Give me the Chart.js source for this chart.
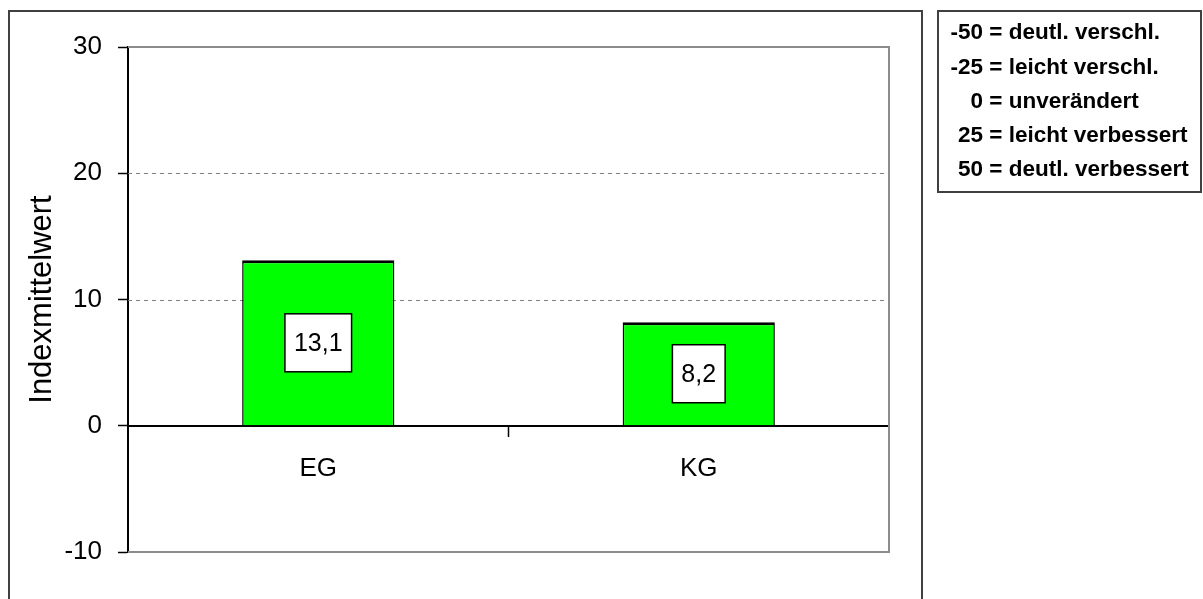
<!DOCTYPE html>
<html>
<head>
<meta charset="utf-8">
<script src="https://cdn.jsdelivr.net/npm/chart.js@4/dist/chart.umd.min.js"></script>
<style>
html,body{margin:0;padding:0;background:#fff;}
#wrap{width:1203px;height:599px;position:relative;}
</style>
</head>
<body>
<div id="wrap"><canvas id="c" width="1203" height="599"></canvas></div>
<script>
const categories = ["EG", "KG"];
const values = [13.1, 8.2];
const yTicks = [-10, 0, 10, 20, 30];
const dashedGrid = [10, 20];
const axisTitle = "Indexmittelwert";
const legendNumbers = ["-50", "-25", "0", "25", "50"];
const legendTexts = ["deutl. verschl.", "leicht verschl.", "unverändert", "leicht verbessert", "deutl. verbessert"];

const FONT = "'Liberation Sans', Arial, sans-serif";

const decorPlugin = {
  id: 'decor',
  beforeDatasetsDraw(chart) {
    const {ctx, chartArea: a, scales: {y}} = chart;
    ctx.save();
    ctx.strokeStyle = '#808080';
    ctx.lineWidth = 1;
    ctx.setLineDash([4, 4]);
    dashedGrid.forEach(v => {
      const py = Math.round(y.getPixelForValue(v)) + 0.5;
      ctx.beginPath(); ctx.moveTo(a.left, py); ctx.lineTo(a.right, py); ctx.stroke();
    });
    ctx.setLineDash([]);
    ctx.strokeStyle = '#8c8c8c';
    ctx.lineWidth = 2;
    ctx.beginPath();
    ctx.moveTo(a.left, a.top); ctx.lineTo(a.right, a.top); ctx.lineTo(a.right, a.bottom); ctx.lineTo(a.left, a.bottom);
    ctx.stroke();
    ctx.restore();
  },
  afterDatasetsDraw(chart) {
    const {ctx} = chart;
    const meta = chart.getDatasetMeta(0);
    ctx.save();
    ctx.font = "25px " + FONT;
    ctx.textAlign = 'center';
    ctx.textBaseline = 'middle';
    meta.data.forEach((bar, i) => {
      const txt = values[i].toFixed(1).replace('.', ',');
      const w = ctx.measureText(txt).width + 18;
      const h = 58;
      const cy = (bar.y + bar.base) / 2;
      ctx.fillStyle = '#fff';
      ctx.fillRect(bar.x - w / 2, cy - h / 2, w, h);
      ctx.strokeStyle = '#000';
      ctx.lineWidth = 1.5;
      ctx.strokeRect(bar.x - w / 2, cy - h / 2, w, h);
      ctx.fillStyle = '#000';
      ctx.fillText(txt, bar.x, cy + 1);
    });
    ctx.restore();
  },
  afterDraw(chart) {
    const {ctx} = chart;
    ctx.save();
    ctx.strokeStyle = '#404040';
    ctx.lineWidth = 2;
    ctx.beginPath();
    ctx.moveTo(9, 605); ctx.lineTo(9, 11); ctx.lineTo(922, 11); ctx.lineTo(922, 605);
    ctx.stroke();
    ctx.strokeRect(938, 11, 263, 181);
    ctx.fillStyle = '#000';
    ctx.font = "bold 22.5px " + FONT;
    ctx.textBaseline = 'middle';
    const eqX = 983;
    legendNumbers.forEach((n, i) => {
      const yy = 33 + i * 34.3;
      ctx.textAlign = 'right';
      ctx.fillText(n, eqX, yy);
      ctx.textAlign = 'left';
      ctx.fillText(" = " + legendTexts[i], eqX, yy);
    });
    ctx.restore();
  }
};

new Chart(document.getElementById('c'), {
  type: 'bar',
  data: {
    labels: categories,
    datasets: [{
      data: values,
      backgroundColor: '#00ff00',
      borderColor: '#000',
      borderWidth: {top: 3, left: 1.5, right: 1.5, bottom: 0},
      borderSkipped: false,
      categoryPercentage: 0.4,
      barPercentage: 1.0
    }]
  },
  options: {
    responsive: false,
    animation: false,
    events: [],
    layout: {padding: {left: 0, top: 47, right: 314, bottom: 47}},
    plugins: {legend: {display: false}, tooltip: {enabled: false}},
    scales: {
      y: {
        min: -10, max: 30,
        afterBuildTicks(scale) { scale.ticks = yTicks.map(v => ({value: v})); },
        afterFit(scale) { scale.width = 128; },
        ticks: {color: '#000', font: {family: FONT, size: 26}, padding: 16},
        grid: {drawOnChartArea: false, drawTicks: true, tickLength: 10, tickColor: '#000', tickWidth: 1.5},
        border: {display: true, color: '#000', width: 2},
        title: {display: true, text: axisTitle, color: '#000', font: {family: FONT, size: 31}, padding: {top: 24, bottom: 0}}
      },
      x: {
        position: {y: 0},
        ticks: {color: '#000', font: {family: FONT, size: 26}, padding: 17},
        grid: {
          offset: true, drawOnChartArea: false, drawTicks: true, tickLength: 10, tickWidth: 1.5,
          tickColor: (ctx) => ctx.index === 1 ? '#000' : 'rgba(0,0,0,0)'
        },
        border: {display: true, color: '#000', width: 2}
      }
    }
  },
  plugins: [decorPlugin]
});
</script>
</body>
</html>
